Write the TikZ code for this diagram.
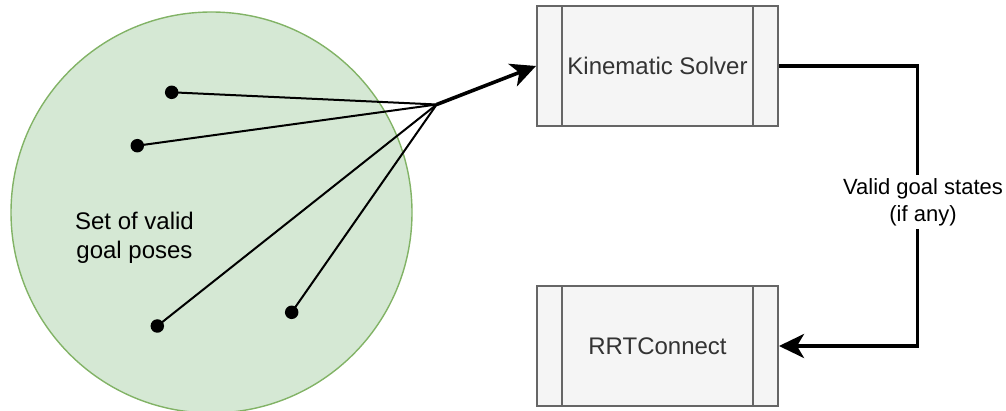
\documentclass[tikz,border=0pt]{standalone}
\usepackage{fontspec}
\setmainfont{Liberation Sans}
\usetikzlibrary{arrows.meta}

\definecolor{setfill}{HTML}{D5E8D4}
\definecolor{setline}{HTML}{82B366}
\definecolor{boxfill}{HTML}{F5F5F5}
\definecolor{boxline}{HTML}{666666}
\definecolor{boxtext}{HTML}{333333}

\tikzset{
  proc/.style={draw=boxline, fill=boxfill, line width=2pt,
    minimum width=241pt, minimum height=120pt, inner sep=0pt,
    text=boxtext, font=\fontsize{24}{28.8}\selectfont,
    path picture={
      \draw[boxline, line width=2pt]
        ([xshift=25pt]path picture bounding box.north west) --
        ([xshift=25pt]path picture bounding box.south west)
        ([xshift=-25pt]path picture bounding box.north east) --
        ([xshift=-25pt]path picture bounding box.south east);
    }},
  goaldot/.style={circle, fill=black, inner sep=0pt, minimum size=13.5pt},
  spoke/.style={line width=2pt, black},
  heavy/.style={line width=3.6pt, black,
    -{Stealth[length=25pt, width=24pt, inset=7pt]}},
}

\begin{document}
\begin{tikzpicture}[x=1pt, y=-1pt]
  \useasboundingbox (0,0) rectangle (1006,411);

  % region of admissible goal poses
  \node[circle, draw=setline, fill=setfill, line width=1.4pt,
        minimum size=401pt, inner sep=0pt] (set) at (211.5,212.5) {};
  \node[align=center, font=\fontsize{24}{29}\selectfont] (setlbl)
        at (134.5,237.5) {Set of valid\\goal poses};

  % sampled goal poses
  \node[goaldot] (g1) at (171.7,92.3) {};
  \node[goaldot] (g2) at (137.3,145.7) {};
  \node[goaldot] (g3) at (157.3,326) {};
  \node[goaldot] (g4) at (291.7,312.3) {};
  \coordinate (hub) at (436.7,104.5);

  % solver blocks
  \node[proc] (ks)  at (657.5,66)  {Kinematic Solver};
  \node[proc] (rrt) at (657.5,346) {RRTConnect};

  % poses gathered into the solver
  \foreach \g in {g1,g2,g3,g4}
    \draw[spoke] (\g.center) -- (hub);
  \draw[heavy] (hub) -- (ks.west);

  % solver output fed to the planner
  \coordinate (turn) at (917.3,0);
  \draw[heavy] (ks.east) -- (ks.east -| turn) |- (rrt.east);
  \node[fill=white, inner sep=3pt, align=center,
        font=\fontsize{22}{27}\selectfont] (out) at (923,202)
        {Valid goal states\\(if any)};
\end{tikzpicture}
\end{document}
